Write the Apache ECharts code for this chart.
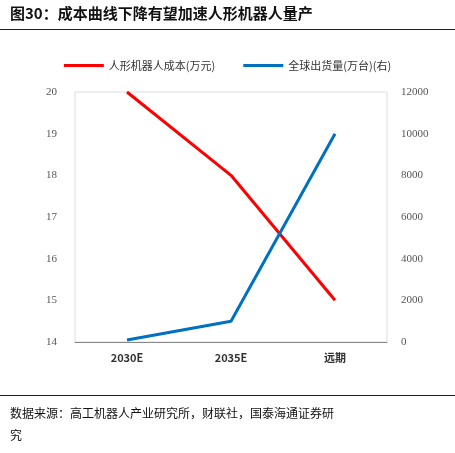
<!DOCTYPE html>
<html><head><meta charset="utf-8">
<script src="https://cdn.jsdelivr.net/npm/echarts@6/dist/echarts.min.js"></script>
<style>html,body{margin:0;padding:0;background:#fff}#c{width:455px;height:453px}</style>
</head><body><div id="c"></div>
<script>
const categories = ['2030E', '2035E', '远期'];
const costValues = [20, 18, 15];
const shipmentValues = [100, 1000, 10000];

const chart = echarts.init(document.getElementById('c'));
const serif = '"Noto Sans CJK SC", "DejaVu Serif"';
chart.setOption({
  animation: false,
  graphic: [
    { type: 'text', left: 10, top: 6, style: { text: '图30：成本曲线下降有望加速人形机器人量产', font: 'bold 15px "Noto Sans CJK SC"', fill: '#111' } },
    { type: 'line', shape: { x1: 0, y1: 29.5, x2: 455, y2: 29.5 }, style: { stroke: '#222', lineWidth: 1 } },
    { type: 'line', shape: { x1: 0, y1: 395.5, x2: 455, y2: 395.5 }, style: { stroke: '#222', lineWidth: 1 } },
    { type: 'text', left: 10, top: 402, style: { text: '数据来源：高工机器人产业研究所，财联社，国泰海通证券研\n究', font: '12px "Noto Sans CJK SC"', lineHeight: 22, fill: '#111' } }
  ],
  legend: {
    top: 55, left: 'center', itemWidth: 40, itemHeight: 3, itemGap: 28,
    textStyle: { fontSize: 11, color: '#333', fontFamily: serif },
    data: [{ name: '人形机器人成本(万元)', icon: 'rect' }, { name: '全球出货量(万台)(右)', icon: 'rect' }]
  },
  grid: { left: 75, right: 68, top: 92, bottom: 111, show: true, borderColor: '#ddd' },
  xAxis: {
    type: 'category', data: categories, boundaryGap: true,
    axisLine: { lineStyle: { color: '#888' } }, axisTick: { show: false },
    axisLabel: { color: '#333', fontSize: 11, fontWeight: 'bold', fontFamily: serif, margin: 10 }
  },
  yAxis: [
    { type: 'value', min: 14, max: 20, interval: 1, splitLine: { show: false },
      axisLine: { show: false }, axisLabel: { color: '#555', fontSize: 11, fontFamily: '"Liberation Serif"', margin: 18 } },
    { type: 'value', min: 0, max: 12000, interval: 2000, splitLine: { show: false },
      axisLine: { show: false }, axisLabel: { color: '#555', fontSize: 11, fontFamily: '"Liberation Serif"', margin: 14, formatter: v => String(v) } }
  ],
  series: [
    { name: '人形机器人成本(万元)', type: 'line', data: costValues, yAxisIndex: 0, symbol: 'none',
      lineStyle: { color: '#ff0000', width: 3 }, itemStyle: { color: '#ff0000' } },
    { name: '全球出货量(万台)(右)', type: 'line', data: shipmentValues, yAxisIndex: 1, symbol: 'none',
      lineStyle: { color: '#0070c0', width: 3 }, itemStyle: { color: '#0070c0' } }
  ]
});
</script></body></html>
